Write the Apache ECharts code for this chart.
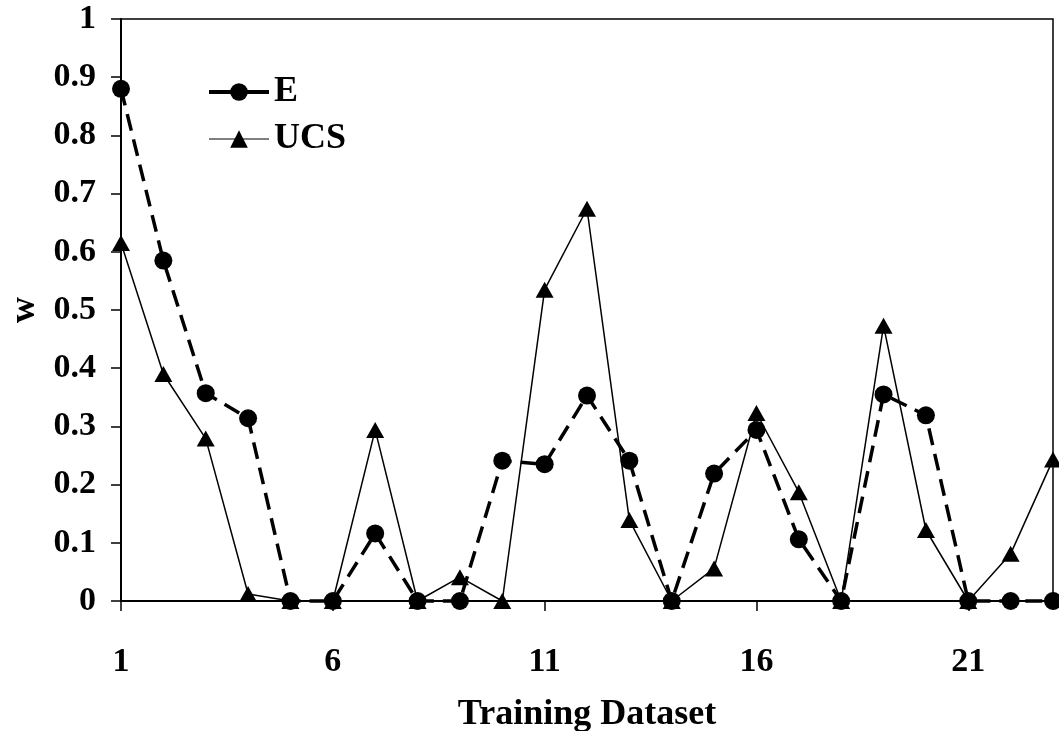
<!DOCTYPE html>
<html>
<head>
<meta charset="utf-8">
<script src="https://cdn.jsdelivr.net/npm/echarts@6/dist/echarts.min.js"></script>
<style>
  html, body { margin: 0; padding: 0; background: #ffffff; }
  #chart { width: 1059px; height: 731px; }
</style>
</head>
<body>
<div id="chart"></div>
<script>
// Training dataset index (1..23)
const categories = ['1','2','3','4','5','6','7','8','9','10','11','12','13','14','15','16','17','18','19','20','21','22','23'];

// Weight w for each dataset
const seriesE = [0.88, 0.585, 0.357, 0.314, 0, 0, 0.116, 0, 0, 0.241, 0.235, 0.353, 0.241, 0, 0.219, 0.294, 0.106, 0, 0.355, 0.319, 0, 0, 0];
const seriesUCS = [0.615, 0.39, 0.279, 0.012, 0, 0, 0.294, 0, 0.041, 0, 0.535, 0.674, 0.139, 0, 0.056, 0.323, 0.187, 0, 0.473, 0.122, 0, 0.081, 0.243];

const FONT = '"Liberation Serif", "Times New Roman", serif';

const chart = echarts.init(document.getElementById('chart'), null, { renderer: 'canvas' });

chart.setOption({
  animation: false,
  backgroundColor: '#ffffff',
  grid: {
    left: 121,
    right: 6,
    top: 19,
    bottom: 130,
    show: true,
    borderColor: '#000',
    borderWidth: 1.5,
    containLabel: false,
    outerBoundsMode: 'none'
  },
  legend: {
    orient: 'vertical',
    left: 202,
    top: 69,
    itemWidth: 60,
    itemHeight: 22,
    itemGap: 11,
    textStyle: { fontFamily: FONT, fontWeight: 'bold', fontSize: 36, color: '#000' },
    data: [
      { name: 'E', lineStyle: { type: 'solid', width: 4 } },
      { name: 'UCS', lineStyle: { type: 'solid', width: 1.2 } }
    ]
  },
  xAxis: {
    type: 'category',
    data: categories,
    boundaryGap: false,
    name: 'Training Dataset',
    nameLocation: 'middle',
    nameGap: 96,
    nameTextStyle: { fontFamily: FONT, fontWeight: 'bold', fontSize: 36, color: '#000' },
    axisLine: { lineStyle: { color: '#000', width: 2 } },
    axisTick: { show: true, interval: 4, inside: false, length: 10, lineStyle: { color: '#000', width: 1.5 } },
    axisLabel: { interval: 4, margin: 44, fontFamily: FONT, fontWeight: 'bold', fontSize: 34, color: '#000' },
    splitLine: { show: false }
  },
  yAxis: {
    type: 'value',
    min: 0,
    max: 1,
    interval: 0.1,
    name: 'w',
    nameLocation: 'middle',
    nameGap: 72,
    nameRotate: 90,
    nameTextStyle: { fontFamily: FONT, fontWeight: 'bold', fontSize: 36, color: '#000' },
    axisLine: { show: true, lineStyle: { color: '#000', width: 2 } },
    axisTick: { show: true, inside: false, length: 10, lineStyle: { color: '#000', width: 1.5 } },
    axisLabel: { margin: 25, fontFamily: FONT, fontWeight: 'bold', fontSize: 34, color: '#000' },
    splitLine: { show: false }
  },
  series: [
    {
      name: 'UCS',
      type: 'line',
      data: seriesUCS,
      clip: false,
      symbol: 'triangle',
      symbolSize: [18, 16],
      lineStyle: { color: '#000', width: 1.5, type: 'solid' },
      itemStyle: { color: '#000', borderWidth: 0 },
      z: 2
    },
    {
      name: 'E',
      type: 'line',
      data: seriesE,
      clip: false,
      symbol: 'circle',
      symbolSize: 18,
      lineStyle: { color: '#000', width: 3.5, type: [17, 9] },
      itemStyle: { color: '#000', borderWidth: 0 },
      z: 3
    }
  ]
});
</script>
</body>
</html>
